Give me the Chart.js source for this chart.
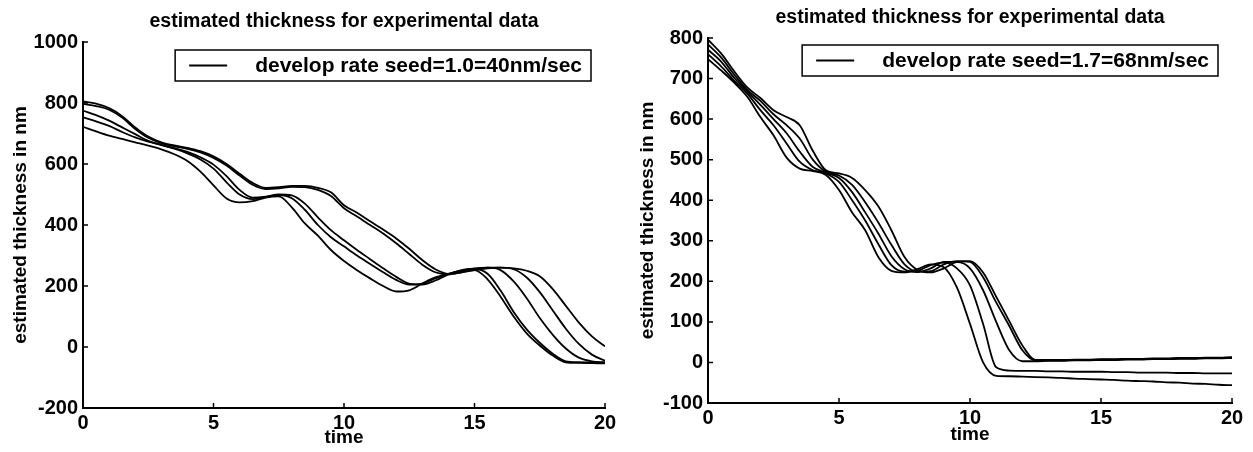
<!DOCTYPE html>
<html>
<head>
<meta charset="utf-8">
<script src="https://cdn.jsdelivr.net/npm/chart.js@4.4.1/dist/chart.umd.min.js"></script>
<style>
  html, body { margin: 0; padding: 0; background: #fff; }
  #wrap { position: relative; width: 1253px; height: 452px; }
  #leftChart { position: absolute; left: 0; top: 0; }
  #rightChart { position: absolute; left: 627px; top: 0; }
</style>
</head>
<body>
<div id="wrap">
  <canvas id="leftChart" width="627" height="452"></canvas>
  <canvas id="rightChart" width="626" height="452"></canvas>
</div>
<script>
// time axis shared by both panels (seconds, step 0.5)
const timeSteps = [0, 0.5, 1, 1.5, 2, 2.5, 3, 3.5, 4, 4.5, 5, 5.5, 6, 6.5, 7, 7.5, 8, 8.5, 9, 9.5,
  10, 10.5, 11, 11.5, 12, 12.5, 13, 13.5, 14, 14.5, 15, 15.5, 16, 16.5, 17, 17.5, 18, 18.5, 19, 19.5, 20];

// ── left panel: seed 1.0 = 40nm/sec
const leftRun1 = [722, 707, 693, 682, 671, 660, 648, 632, 610, 575, 530, 487, 474, 478, 490, 494, 458, 405, 365, 318,
  282, 252, 225, 200, 182, 186, 208, 228, 240, 248, 252, 222, 165, 100, 45, 5, -28, -50, -52, -53, -54];
const leftRun2 = [753, 740, 725, 705, 687, 673, 662, 650, 635, 615, 585, 540, 500, 485, 492, 498, 488, 450, 400, 360,
  330, 300, 272, 245, 220, 205, 208, 225, 240, 250, 256, 240, 185, 115, 58, 14, -22, -47, -50, -51, -52];
const leftRun3 = [775, 760, 742, 720, 698, 676, 663, 652, 640, 622, 598, 560, 515, 490, 493, 500, 497, 470, 425, 383,
  350, 318, 288, 258, 230, 208, 205, 218, 238, 252, 258, 260, 252, 215, 160, 95, 40, -5, -35, -47, -50];
const leftRun4 = [797, 790, 778, 752, 715, 686, 668, 658, 650, 638, 620, 595, 562, 532, 518, 520, 525, 524, 515, 495,
  455, 428, 400, 372, 340, 305, 270, 245, 238, 245, 255, 260, 260, 255, 228, 180, 120, 60, 10, -25, -45];
const leftRun5 = [805, 798, 783, 757, 720, 690, 671, 661, 653, 642, 625, 600, 568, 538, 522, 524, 528, 528, 522, 507,
  465, 440, 412, 385, 356, 322, 285, 255, 240, 245, 252, 258, 260, 258, 250, 232, 190, 135, 80, 35, 2];

// ── right panel: seed 1.7 = 68nm/sec
const rightRun1 = [748, 720, 690, 655, 605, 560, 505, 478, 472, 462, 425, 370, 326, 260, 226, 222, 230, 242, 235, 185,
  95, 0, -33, -34, -35, -36, -37, -38, -40, -41, -42, -43, -45, -46, -47, -49, -50, -52, -53, -55, -56];
const rightRun2 = [760, 730, 695, 663, 622, 585, 540, 495, 474, 466, 445, 400, 350, 292, 240, 224, 226, 240, 246, 232,
  190, 95, -12, -20, -21, -21, -22, -22, -23, -23, -23, -24, -24, -25, -25, -25, -26, -26, -27, -27, -27];
const rightRun3 = [771, 742, 702, 668, 635, 600, 565, 520, 482, 468, 455, 420, 370, 318, 262, 230, 223, 232, 248, 248,
  232, 178, 100, 30, 3, 3, 4, 4, 5, 5, 6, 6, 7, 7, 8, 8, 9, 9, 10, 10, 11];
const rightRun4 = [784, 752, 710, 672, 645, 612, 585, 552, 500, 470, 461, 438, 395, 345, 290, 242, 224, 225, 242, 250,
  248, 210, 148, 90, 30, 5, 5, 5, 6, 6, 7, 7, 8, 8, 9, 9, 10, 10, 11, 11, 12];
const rightRun5 = [796, 762, 718, 678, 652, 622, 605, 585, 522, 474, 466, 455, 425, 385, 326, 260, 228, 222, 232, 248,
  250, 222, 162, 102, 42, 6, 6, 6, 7, 7, 8, 8, 9, 9, 10, 10, 11, 11, 12, 12, 13];

const xTicks = { min: 0, max: 20, step: 5 };
const leftYTicks = { min: -200, max: 1000, step: 200 };
const rightYTicks = { min: -100, max: 800, step: 100 };

const FONT = "'Liberation Sans', Arial, Helvetica, sans-serif";

// title centred over the plot area, MATLAB style
const figTitle = {
  id: "figTitle",
  afterDraw(chart, args, opts) {
    const { ctx, chartArea } = chart;
    ctx.save();
    ctx.fillStyle = "#000";
    ctx.font = `bold ${opts.size}px ${FONT}`;
    ctx.textAlign = "center";
    ctx.textBaseline = "alphabetic";
    ctx.fillText(opts.text, (chartArea.left + chartArea.right) / 2, opts.baseline);
    ctx.restore();
  },
};

// inward tick marks on both axes
const inwardTicks = {
  id: "inwardTicks",
  afterDatasetsDraw(chart) {
    const { ctx, chartArea, scales } = chart;
    ctx.save();
    ctx.strokeStyle = "#000";
    ctx.lineWidth = 1.5;
    ctx.beginPath();
    scales.x.ticks.forEach((t) => {
      if (t.value === scales.x.min) return;
      const px = scales.x.getPixelForValue(t.value);
      ctx.moveTo(px, chartArea.bottom);
      ctx.lineTo(px, chartArea.bottom - 5);
    });
    scales.y.ticks.forEach((t) => {
      if (t.value === scales.y.min) return;
      const py = scales.y.getPixelForValue(t.value);
      ctx.moveTo(chartArea.left, py);
      ctx.lineTo(chartArea.left + 5, py);
    });
    ctx.stroke();
    ctx.restore();
  },
};

// boxed legend in the upper right corner
const boxLegend = {
  id: "boxLegend",
  afterDraw(chart, args, opts) {
    const { ctx, chartArea } = chart;
    const label = chart.data.datasets[0].label;
    ctx.save();
    ctx.font = `bold ${opts.size}px ${FONT}`;
    const textW = ctx.measureText(label).width;
    const w = 80 + textW + 9;
    const h = 31;
    const x = chartArea.right - opts.right - w;
    const y = chartArea.top + opts.top;
    ctx.fillStyle = "#fff";
    ctx.fillRect(x, y, w, h);
    ctx.strokeStyle = "#000";
    ctx.lineWidth = 1.5;
    ctx.strokeRect(x, y, w, h);
    ctx.lineWidth = 1.8;
    ctx.beginPath();
    ctx.moveTo(x + 14, y + h / 2);
    ctx.lineTo(x + 52, y + h / 2);
    ctx.stroke();
    ctx.fillStyle = "#000";
    ctx.textBaseline = "middle";
    ctx.fillText(label, x + 80, y + h / 2 + 1);
    ctx.restore();
  },
};

function makeDatasets(runs, label) {
  return runs.map((run) => ({
    label,
    data: run.map((v, i) => ({ x: timeSteps[i], y: v })),
    borderColor: "#000",
    borderWidth: 1.8,
    pointRadius: 0,
    fill: false,
    cubicInterpolationMode: "monotone",
  }));
}

function makeChart(canvasId, runs, label, yTicks, geo) {
  const tickFont = { family: FONT, size: 20, weight: "bold" };
  const titleFont = { family: FONT, size: 19, weight: "bold" };
  return new Chart(document.getElementById(canvasId), {
    type: "line",
    data: { datasets: makeDatasets(runs, label) },
    plugins: [figTitle, inwardTicks, boxLegend],
    options: {
      responsive: false,
      animation: false,
      layout: { padding: { top: geo.top, right: geo.right, left: 0, bottom: 0 } },
      plugins: {
        legend: { display: false },
        tooltip: { enabled: false },
        figTitle: { text: "estimated thickness for experimental data", size: 19.5, baseline: geo.titleBase },
        boxLegend: { size: 21, right: 14, top: geo.legendTop },
      },
      scales: {
        x: {
          type: "linear",
          min: xTicks.min,
          max: xTicks.max,
          ticks: { stepSize: xTicks.step, color: "#000", font: tickFont, padding: 3, maxRotation: 0,
            callback: (v) => String(v) },
          grid: { display: false, drawTicks: false },
          border: { display: true, color: "#000", width: 2 },
          title: { display: true, text: "time", color: "#000", font: titleFont, padding: { top: 0, bottom: geo.timePad } },
          afterFit: (s) => { s.height = geo.xHeight; },
        },
        y: {
          min: yTicks.min,
          max: yTicks.max,
          ticks: { stepSize: yTicks.step, color: "#000", font: tickFont, padding: 5,
            callback: (v) => String(v) },
          grid: { display: false, drawTicks: false },
          border: { display: true, color: "#000", width: 2 },
          title: { display: true, text: "estimated thickness in nm", color: "#000", font: titleFont, padding: { top: 9, bottom: 0 } },
          afterFit: (s) => { s.width = geo.yWidth; },
        },
      },
    },
  });
}

makeChart("leftChart", [leftRun1, leftRun2, leftRun3, leftRun4, leftRun5],
  "develop rate seed=1.0=40nm/sec", leftYTicks,
  { top: 42, right: 22, xHeight: 44, yWidth: 83, titleBase: 27, legendTop: 8, timePad: 3 });

makeChart("rightChart", [rightRun1, rightRun2, rightRun3, rightRun4, rightRun5],
  "develop rate seed=1.7=68nm/sec", rightYTicks,
  { top: 38, right: 21, xHeight: 49, yWidth: 81, titleBase: 23, legendTop: 7, timePad: 6 });
</script>
</body>
</html>
